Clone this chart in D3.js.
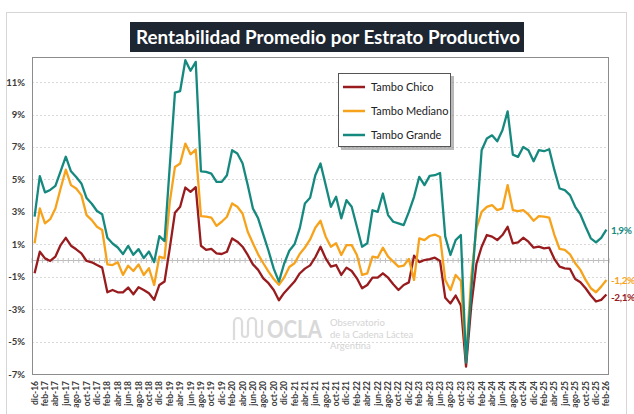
<!DOCTYPE html>
<html>
<head>
<meta charset="utf-8">
<script src="https://cdn.jsdelivr.net/npm/d3@7"></script>
<style>
  html, body { margin: 0; padding: 0; background: #fff; }
  svg { display: block; font-family: Lato, "Open Sans", sans-serif; }
</style>
</head>
<body>
<div id="chart"></div>
<script>
// monthly series, dic-16 .. feb-26 (values in %)
var tamboChico = [
  -0.79, 0.54, 0.13, -0.03, 0.24, 0.95, 1.4, 0.91, 0.69, 0.44, -0.03, -0.11,
  -0.28, -0.44, -1.96, -1.82, -1.96, -1.96, -1.67, -2.08, -1.65, -1.82, -2.02, -2.43,
  -1.51, -1.3, 0.75, 2.95, 3.31, 4.5, 4.23, 4.52, 0.91, 0.65, 0.71, 0.44,
  0.4, 0.54, 1.36, 1.16, 0.85, 0.34, -0.24, -0.58, -1.1, -1.4, -1.82, -2.45,
  -2.0, -1.65, -1.3, -0.8, -0.5, -0.3, 0.2, 0.85, 0.13, -0.38, -0.28, -0.89,
  -0.44, -0.65, -1.1, -1.71, -1.51, -1.06, -1.06, -0.79, -1.06, -1.47, -1.82, -1.51,
  -1.35, 0.3, -0.1, 0.03, 0.09, 0.17, -0.03, -2.3, -2.65, -2.16, -2.77, -6.55,
  -2.8, -0.2, 0.85, 1.57, 1.47, 1.26, 1.57, 2.08, 1.06, 1.12, 1.4, 1.16,
  0.79, 0.85, 0.75, 0.79, 0.09, -0.38, -0.48, -0.52, -1.14, -1.34, -1.71, -2.16,
  -2.53, -2.43, -2.1
];
var tamboMediano = [
  1.06, 3.21, 2.29, 2.55, 3.21, 4.44, 5.6, 4.65, 4.44, 4.03, 2.8, 2.49,
  2.08, 1.88, -0.24, -0.28, -0.11, -0.89, -0.32, -0.65, -0.24, -0.89, -0.48, -1.51,
  0.24, 0.13, 3.6, 5.77, 5.98, 7.21, 6.55, 6.84, 2.74, 2.7, 2.64, 2.14,
  2.39, 2.7, 3.52, 3.31, 2.9, 1.77, 1.06, 0.38, -0.17, -0.69, -1.14, -1.5,
  -1.05, -0.4, -0.17, 0.4, 0.8, 1.3, 2.02, 2.45, 1.47, 0.85, 1.06, 0.34,
  0.95, 0.95, 0.34, -0.89, -0.79, 0.24, 0.17, 0.79, 0.24, -0.07, -0.38, -0.32,
  0.1, -1.2, 1.36, 1.26, 1.51, 1.6, 1.45, -1.2, -1.82, -0.89, -1.25, -6.0,
  -1.0, 2.0, 3.0, 3.31, 3.42, 3.11, 3.21, 4.65, 3.11, 3.05, 3.11, 2.84,
  2.45, 2.74, 2.7, 2.64, 1.57, 0.71, 0.65, 0.38, -0.17, -0.58, -1.2, -1.71,
  -1.96, -1.61, -1.2
];
var tamboGrande = [
  2.7, 5.2, 4.2, 4.35, 4.6, 5.5, 6.4, 5.5, 5.15, 4.75, 3.85, 3.5,
  3.05, 2.85, 1.4, 1.05, 0.8, 0.4, 0.9, 0.35, 0.7, 0.15, 0.55, -0.1,
  1.5, 1.2, 5.8, 10.35, 10.45, 12.35, 11.7, 12.25, 5.5, 5.47, 5.36, 4.85,
  4.85, 5.26, 6.8, 6.6, 6.0, 4.65, 3.21, 2.6, 1.6, 0.6, -0.5, -1.3,
  -0.2, 0.6, 1.0, 1.98, 3.52, 3.87, 5.26, 5.98, 4.65, 3.31, 3.93, 2.6,
  3.72, 3.31, 2.08, 0.85, 1.06, 3.1, 3.0, 4.13, 2.8, 2.39, 2.29, 2.18,
  3.0, 3.93, 5.16, 4.65, 5.22, 5.26, 5.4, 1.47, 0.34, 1.26, 1.57, -6.3,
  -1.9, 2.4, 6.8, 7.52, 7.72, 7.35, 8.03, 9.2, 6.53, 6.39, 7.0, 6.8,
  6.12, 6.8, 6.74, 6.86, 5.57, 4.44, 4.34, 4.03, 3.31, 2.84, 2.08, 1.37,
  1.12, 1.4, 1.9
];

var seriesNames = ['Tambo Chico', 'Tambo Mediano', 'Tambo Grande'];
var endLabels = ['-2,1%', '-1,2%', '1,9%'];
var yTicks = [-7, -5, -3, -1, 1, 3, 5, 7, 9, 11];
var monthNames = ['ene', 'feb', 'mar', 'abr', 'may', 'jun', 'jul', 'ago', 'sep', 'oct', 'nov', 'dic'];
var title = 'Rentabilidad Promedio por Estrato Productivo';

// categories: dic-16 onward, one per value
var months = tamboGrande.map(function(d, i) {
  var m = 11 + i;
  return monthNames[m % 12] + '-' + String(2016 + Math.floor(m / 12)).slice(2);
});

var W = 634, H = 414,
    plot = {left: 32, right: 609, top: 57, bottom: 374},
    colors = ['#981b1e', '#f7a21b', '#16897f'];

var svg = d3.select('#chart').append('svg')
    .attr('width', W)
    .attr('height', H);

// outer chart frame
svg.append('rect')
    .attr('x', 6.5).attr('y', 12.5)
    .attr('width', 620).attr('height', 420)
    .attr('fill', '#fff')
    .attr('stroke', '#d6d6d6');

var x = d3.scalePoint()
    .domain(months)
    .range([plot.left, plot.right])
    .padding(0.5);

var y = d3.scaleLinear()
    .domain([-7, 12.55])
    .range([plot.bottom, plot.top]);

var step = x.step();

// plot area
svg.append('rect')
    .attr('x', plot.left).attr('y', plot.top)
    .attr('width', plot.right - plot.left)
    .attr('height', plot.bottom - plot.top)
    .attr('fill', '#fff');

// gridlines
svg.append('g')
    .selectAll('line')
    .data(yTicks.filter(function(d) { return d > -7; }))
    .enter().append('line')
    .attr('x1', plot.left).attr('x2', plot.right)
    .attr('y1', function(d) { return Math.round(y(d)) + 0.5; })
    .attr('y2', function(d) { return Math.round(y(d)) + 0.5; })
    .attr('stroke', '#d9d9d9')
    .attr('stroke-dasharray', '2,2');

// watermark
var wm = svg.append('g').attr('fill', '#d4d4d4').attr('opacity', 0.9);
wm.append('path')
    .attr('d', 'M234,340 V322 a4,4 0 0 1 8,0 V334 a3,3 0 0 0 6,0 V322 a4,4 0 0 1 8,0 V334 a3,3 0 0 0 6,0 V320')
    .attr('fill', 'none')
    .attr('stroke', '#d8d8d8')
    .attr('stroke-width', 2.2);
wm.append('text')
    .attr('x', 267).attr('y', 338)
    .attr('font-size', 24)
    .attr('font-weight', 'bold')
    .attr('textLength', 55)
    .attr('lengthAdjust', 'spacingAndGlyphs')
    .text('OCLA');
wm.selectAll('text.sub')
    .data(['Observatorio', 'de la Cadena Láctea', 'Argentina'])
    .enter().append('text')
    .attr('class', 'sub')
    .attr('x', 330)
    .attr('y', function(d, i) { return 326 + i * 11.5; })
    .attr('font-size', 9.5)
    .attr('fill', '#d0d0d0')
    .text(function(d) { return d; });

// zero axis line with monthly ticks
var zy = Math.round(y(0)) + 0.5;
svg.append('line')
    .attr('x1', plot.left).attr('x2', plot.right)
    .attr('y1', zy).attr('y2', zy)
    .attr('stroke', '#bdbdbd');
svg.append('g')
    .selectAll('line')
    .data(d3.range(months.length + 1))
    .enter().append('line')
    .attr('x1', function(d) { return plot.left + d * step; })
    .attr('x2', function(d) { return plot.left + d * step; })
    .attr('y1', zy - 2.5).attr('y2', zy + 2.5)
    .attr('stroke', '#c4c4c4');

// lines
var line = d3.line()
    .x(function(d, i) { return x(months[i]); })
    .y(function(d) { return y(d); });

var series = [tamboChico, tamboMediano, tamboGrande];
svg.append('g')
    .selectAll('path')
    .data(series)
    .enter().append('path')
    .attr('d', line)
    .attr('fill', 'none')
    .attr('stroke', function(d, i) { return colors[i]; })
    .attr('stroke-width', 2.3)
    .attr('stroke-linejoin', 'round');

// plot border
svg.append('rect')
    .attr('x', plot.left + 0.5).attr('y', plot.top + 0.5)
    .attr('width', plot.right - plot.left - 1)
    .attr('height', plot.bottom - plot.top)
    .attr('fill', 'none')
    .attr('stroke', '#8c8c8c');

// y axis labels
svg.append('g')
    .selectAll('text')
    .data(yTicks)
    .enter().append('text')
    .attr('x', 25)
    .attr('y', function(d) { return y(d) + 3.5; })
    .attr('text-anchor', 'end')
    .attr('font-size', 9.5)
    .attr('font-weight', 'bold')
    .attr('fill', '#3a3a3a')
    .text(function(d) { return d + '%'; });

// x axis labels, every second month
svg.append('g')
    .selectAll('text')
    .data(months.filter(function(d, i) { return i % 2 === 0; }))
    .enter().append('text')
    .attr('transform', function(d) {
        return 'translate(' + (x(d) + 3) + ',' + 381 + ') rotate(-90)';
    })
    .attr('text-anchor', 'end')
    .attr('font-size', 8.5)
    .attr('font-weight', 'bold')
    .attr('fill', '#3a3a3a')
    .text(function(d) { return d; });

// end labels
var last = months.length - 1;
svg.append('g')
    .selectAll('text')
    .data(series)
    .enter().append('text')
    .attr('x', 611)
    .attr('y', function(d, i) { return y(d[last]) + (i === 0 ? 6 : 4); })
    .attr('font-size', 10)
    .attr('font-weight', 'bold')
    .attr('letter-spacing', -0.4)
    .attr('fill', function(d, i) { return colors[i]; })
    .text(function(d, i) { return endLabels[i]; });

// legend
var lg = svg.append('g').attr('transform', 'translate(338,73)');
lg.append('rect')
    .attr('x', 3).attr('y', 3)
    .attr('width', 113).attr('height', 74)
    .attr('fill', '#8a8a8a')
    .attr('opacity', 0.6);
lg.append('rect')
    .attr('x', 0.5).attr('y', 0.5)
    .attr('width', 112).attr('height', 73)
    .attr('fill', '#fff')
    .attr('stroke', '#555');
var item = lg.selectAll('g.item')
    .data(seriesNames)
    .enter().append('g')
    .attr('class', 'item')
    .attr('transform', function(d, i) { return 'translate(0,' + (14 + i * 24) + ')'; });
item.append('line')
    .attr('x1', 5).attr('x2', 27)
    .attr('stroke', function(d, i) { return colors[i]; })
    .attr('stroke-width', 2.5);
item.append('text')
    .attr('x', 33).attr('y', 4)
    .attr('font-size', 11)
    .attr('fill', '#222')
    .text(function(d) { return d; });

// title box
svg.append('rect')
    .attr('x', 130).attr('y', 22)
    .attr('width', 394).attr('height', 30)
    .attr('fill', '#1d2631');
svg.append('text')
    .attr('x', 136).attr('y', 44)
    .attr('font-size', 19)
    .attr('font-weight', 'bold')
    .attr('fill', '#fff')
    .attr('textLength', 384)
    .attr('lengthAdjust', 'spacingAndGlyphs')
    .text(title);
</script>
</body>
</html>
